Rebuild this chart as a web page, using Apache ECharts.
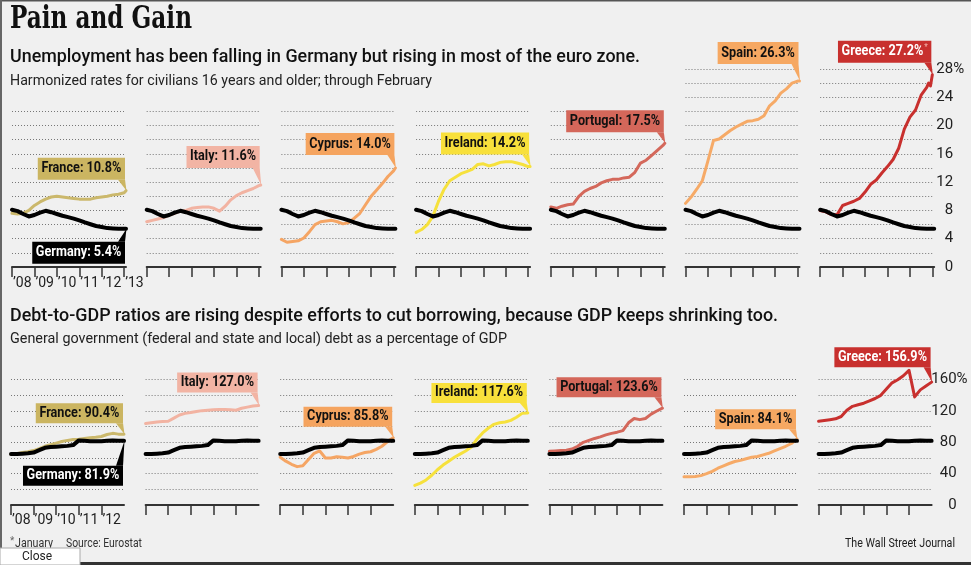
<!DOCTYPE html>
<html><head><meta charset="utf-8">
<script src="https://cdn.jsdelivr.net/npm/echarts@6/dist/echarts.min.js"></script>
<style>html,body{margin:0;padding:0;background:#f0f0f0;overflow:hidden}#c{width:971px;height:565px;}</style>
</head><body><div id="c"></div>
<script>
// ---------- DATA ----------
const countries = ['France', 'Italy', 'Cyprus', 'Ireland', 'Portugal', 'Spain', 'Greece'];
const yearLabels = ['\u201908', '\u201909', '\u201910', '\u201911', '\u201912', '\u201913'];

// Unemployment, month index from Jan 2008 (0) to Feb 2013 (61)
const topMonths = [0,3,6,9,12,15,18,21,24,27,30,33,36,39,42,45,48,51,54,57,60,61];
const greeceMonths = [0,3,6,9,12,15,18,21,24,27,30,33,36,39,42,45,48,51,54,57,58,59,60];
const germanyUnemp = [8.1,7.9,7.5,7.15,7.35,7.7,7.95,7.75,7.5,7.25,7.05,6.85,6.6,6.3,6.05,5.8,5.65,5.5,5.45,5.4,5.4,5.4];
const franceUnemp = [7.6,7.5,7.6,8.0,8.7,9.2,9.6,9.9,10.0,9.9,9.8,9.7,9.6,9.6,9.6,9.8,9.9,10.0,10.2,10.3,10.5,10.8];
const italyUnemp = [6.4,6.6,6.8,7.0,7.3,7.6,7.9,8.0,8.3,8.4,8.5,8.5,8.3,7.9,8.6,9.5,10.1,10.5,10.8,11.1,11.5,11.6];
const cyprusUnemp = [3.9,3.5,3.6,3.7,4.1,5.0,6.0,6.4,6.5,6.6,6.4,6.1,6.3,6.9,7.6,8.8,10.0,10.9,11.8,12.8,13.6,14.0];
const irelandUnemp = [4.9,5.3,6.0,7.2,9.3,11.0,12.2,12.7,13.2,13.5,13.8,14.5,14.6,14.3,14.5,14.8,14.9,14.9,14.7,14.5,14.2,14.2];
const portugalUnemp = [8.5,8.3,8.6,8.8,8.9,10.0,10.7,11.1,11.4,11.9,12.2,12.4,12.4,12.6,12.7,13.4,14.7,15.1,15.8,16.5,17.2,17.5];
const spainUnemp = [9.0,9.9,11.0,12.2,15.0,17.9,18.1,18.7,19.3,19.8,20.2,20.6,20.7,20.9,21.4,22.8,23.5,24.6,25.2,26.0,26.3,26.3];
const greeceUnemp = [8.0,7.8,7.4,7.4,8.7,9.0,9.3,9.7,10.6,11.7,12.3,13.3,14.2,15.2,16.8,19.5,21.2,22.2,24.3,25.4,26.0,25.6,27.2];

// Debt-to-GDP, quarter index (0 = end 2007 ... 20 = end 2012)
const quarters = [0,1,2,3,4,5,6,7,8,9,10,11,12,13,14,15,16,17,18,19,20];
const germanyDebt = [65,65,65.5,66,67,70,73,74,74.5,75,75.5,76.5,82.5,82,81.5,81.5,81.5,82,82.5,82,81.9];
const franceDebt = [64.5,65.5,67,68,69.5,72,75,77,79,81,82.5,83.5,84,85,86,86.5,87.5,90,91.5,90.5,90.4];
const italyDebt = [104,105,106,106.5,107,111,115,117,118,119.5,120.5,121,121.5,122,122,121.5,121,123.5,125,126.5,127.0];
const cyprusDebt = [61,56,52,49,50,58,66,69,60,60,61.5,61,60,62,65,67,68,71,75,81,85.8];
const irelandDebt = [25,28,32,38,45,51,56,61,65,69,74,84,92,98,103,105,106,108,112,117,117.6];
const portugalDebt = [68.5,69,69.5,70,71.5,75,80,82.5,85,87,89.5,91.5,93,95,105,110.5,109,110.5,116,120,123.6];
const spainDebt = [36,36,36.5,37.5,40,43,47,50,53,55.5,57,59,61,62,64,66,69,72,75,78.5,84.1];
const greeceDebt = [107,108,109,110,113,121,126,128,130,133,136,140,148,156,160,165,172,138,147,152,156.9];

const topTicks = [0,12,24,36,48,60];
const bottomTicks = [0,4,8,12,16];

// ---------- STYLE ----------
const lineColors = ['#cbb86c','#f2b3a2','#f5a564','#f6e13c','#d4685b','#f6aa67','#c8302e'];
const boxColors  = ['#cbb561','#f2b4a4','#f5a45f','#f8e03b','#d4675a','#f6a862','#c8302e'];
const boxText    = ['#111','#111','#111','#111','#111','#111','#fff'];
const topDy = [-11,-17,-13,-12,-11,-17,-12];
const botDy = [-11,-13,-11,-10,-11,-10,-15];

const unempSets = [franceUnemp, italyUnemp, cyprusUnemp, irelandUnemp, portugalUnemp, spainUnemp, greeceUnemp];
const unempX = [topMonths, topMonths, topMonths, topMonths, topMonths, topMonths, greeceMonths];
const debtSets = [franceDebt, italyDebt, cyprusDebt, irelandDebt, portugalDebt, spainDebt, greeceDebt];

const AX = '"Liberation Sans Narrow", "Roboto", sans-serif';
const XF = 'Roboto, sans-serif';
const PX_TOP = 7.07, BASE_TOP = 267;
const PX_BOT = 125.3 / 160, BASE_BOT = 505;
const TOP_LABEL_MARGIN = 19, BOT_LABEL_MARGIN = 25;

const grids = [], xAxes = [], yAxes = [], series = [];
const dotted = { lineStyle: { type: [1, 2], color: '#777', width: 1 } };

function pairs(xs, ys) { return xs.map((x, j) => [x, ys[j]]); }

for (let i = 0; i < 7; i++) {
  const ymax = i >= 5 ? 28 : 22;
  const k = grids.length;
  grids.push({ left: 12 + i * 134.7, top: BASE_TOP - ymax * PX_TOP, width: 114, height: ymax * PX_TOP, outerBoundsMode: 'none' });
  xAxes.push({
    gridIndex: k, type: 'value', min: 0, max: 61,
    axisLine: { lineStyle: { color: '#333', width: 2 } },
    axisTick: { customValues: topTicks, length: 10, lineStyle: { color: '#333', width: 1.5 } },
    axisLabel: { show: i === 0, customValues: topTicks, formatter: v => yearLabels[v / 12], align: 'left', padding: [0,0,0,1], margin: 9, fontSize: 14, color: '#222', fontFamily: XF },
    splitLine: { show: false }
  });
  yAxes.push({
    gridIndex: k, type: 'value', min: 0, max: ymax, interval: 2, position: 'right',
    axisLine: { show: false }, axisTick: { show: false },
    axisLabel: { show: i === 6, align: 'right', margin: TOP_LABEL_MARGIN, fontSize: 15, color: '#222', fontFamily: AX,
      formatter: v => (v % 4 ? '' : '' + v) },
    splitLine: dotted
  });
  series.push({ type: 'line', xAxisIndex: k, yAxisIndex: k, data: pairs(unempX[i], unempSets[i]), showSymbol: false, symbol: 'none', clip: false, z: 3, lineStyle: { color: lineColors[i], width: 3, join: 'round', cap: 'round' }, silent: true });
  series.push({ type: 'line', xAxisIndex: k, yAxisIndex: k, data: pairs(topMonths, germanyUnemp), showSymbol: false, symbol: 'none', clip: false, z: 4, lineStyle: { color: '#000', width: 4, join: 'round', cap: 'round' }, silent: true });
}
for (let i = 0; i < 7; i++) {
  const k = grids.length;
  grids.push({ left: 11 + i * 134.6, top: BASE_BOT - 160 * PX_BOT, width: 113, height: 160 * PX_BOT, outerBoundsMode: 'none' });
  xAxes.push({
    gridIndex: k, type: 'value', min: 0, max: 20,
    axisLine: { lineStyle: { color: '#333', width: 2 } },
    axisTick: { customValues: bottomTicks, length: 10, lineStyle: { color: '#333', width: 1.5 } },
    axisLabel: { show: i === 0, customValues: bottomTicks, formatter: v => yearLabels[v / 4], align: 'left', padding: [0,0,0,1], margin: 8, fontSize: 14, color: '#222', fontFamily: XF },
    splitLine: { show: false }
  });
  yAxes.push({
    gridIndex: k, type: 'value', min: 0, max: 160, interval: 20, position: 'right',
    axisLine: { show: false }, axisTick: { show: false },
    axisLabel: { show: i === 6, align: 'right', margin: BOT_LABEL_MARGIN, fontSize: 15, color: '#222', fontFamily: AX,
      formatter: v => (v % 40 ? '' : '' + v) },
    splitLine: dotted
  });
  series.push({ type: 'line', xAxisIndex: k, yAxisIndex: k, data: pairs(quarters, debtSets[i]), showSymbol: false, symbol: 'none', clip: false, z: 3, lineStyle: { color: lineColors[i], width: 3, join: 'round', cap: 'round' }, silent: true });
  series.push({ type: 'line', xAxisIndex: k, yAxisIndex: k, data: pairs(quarters, germanyDebt), showSymbol: false, symbol: 'none', clip: false, z: 4, lineStyle: { color: '#000', width: 4, join: 'round', cap: 'round' }, silent: true });
}

const chart = echarts.init(document.getElementById('c'), null, { renderer: 'canvas' });
chart.setOption({
  animation: false,
  backgroundColor: '#f0f0f0',
  grid: grids, xAxis: xAxes, yAxis: yAxes, series: series
});

// ---------- ANNOTATIONS ----------
const mctx = document.createElement('canvas').getContext('2d');
function measure(text, font) { mctx.font = font; return mctx.measureText(text).width; }
const graphics = [];

function addText(text, x, y, font, w, color, align) {
  const s = w ? w / measure(text, font) : 1;
  graphics.push({ type: 'text', x: x, y: y, scaleX: s, z: 60, silent: true,
    style: { text: text, font: font, fill: color || '#111', align: align || 'left', textAlign: align || 'left', verticalAlign: 'middle', textVerticalAlign: 'middle' } });
}

const LABEL_FONT = 'bold 14px Roboto, sans-serif';
const labelScale = 80 / measure('France: 10.8%', LABEL_FONT);

function addLabel(gi, x, y, text, bg, fg, dy, pad, asterisk) {
  const p = chart.convertToPixel({ gridIndex: gi }, [x, y]);
  const bx = p[0] - 1, by = p[1] + dy;
  const va = dy < 0 ? 'bottom' : 'top';
  graphics.push({ type: 'polygon', z: 70, silent: true, shape: { points: [[bx - 7, by], [bx, by], [p[0] + 0.5, p[1]]] }, style: { fill: bg } });
  const style = { text: asterisk ? '{a|' + text + '}{b|*}' : text, font: LABEL_FONT, fill: fg, backgroundColor: bg, padding: pad,
    align: 'right', textAlign: 'right', verticalAlign: va, textVerticalAlign: va, lineHeight: 16 };
  if (asterisk) style.rich = { a: { font: LABEL_FONT, fill: fg, lineHeight: 16 }, b: { fontSize: 9, fontFamily: 'Roboto', fill: '#f3b3ab', verticalAlign: 'top', lineHeight: 16, padding: [0, 0, 6, 1] } };
  graphics.push({ type: 'text', x: bx, y: by, scaleX: labelScale, z: 71, silent: true, style: style });
}

for (let i = 0; i < 7; i++) {
  const xs = unempX[i], ys = unempSets[i];
  const n = ys.length - 1;
  addLabel(i, xs[n], ys[n], countries[i] + ': ' + ys[n].toFixed(1) + '%', boxColors[i], boxText[i], topDy[i], [3, 4, 3, 4], i === 6);
  const m = debtSets[i].length - 1;
  addLabel(7 + i, quarters[m], debtSets[i][m], countries[i] + ': ' + debtSets[i][m].toFixed(1) + '%', boxColors[i], boxText[i], botDy[i], [2, 4, 2, 4], false);
}
const gn = germanyUnemp.length - 1;
addLabel(0, topMonths[gn], germanyUnemp[gn], 'Germany: ' + germanyUnemp[gn].toFixed(1) + '%', '#000', '#fff', 13, [3, 4, 3, 4], false);
const dn = germanyDebt.length - 1;
addLabel(7, quarters[dn], germanyDebt[dn], 'Germany: ' + germanyDebt[dn].toFixed(1) + '%', '#000', '#fff', 25, [2, 4, 2, 4], false);

// percent signs hanging after the top value labels of the right axes
function addPercent(gi, x, y, margin) {
  const p = chart.convertToPixel({ gridIndex: gi }, [x, y]);
  const g = chart.getModel().getComponent('grid', gi).coordinateSystem.getRect();
  graphics.push({ type: 'text', z: 60, silent: true, x: g.x + g.width + margin, y: p[1],
    style: { text: '%', font: '15px ' + AX, fill: '#222', align: 'left', textAlign: 'left', verticalAlign: 'middle', textVerticalAlign: 'middle' } });
}
addPercent(6, 0, 28, TOP_LABEL_MARGIN);
addPercent(13, 0, 160, BOT_LABEL_MARGIN);

// titles
addText('Pain and Gain', 10, 20, 'bold 31px "DejaVu Serif", serif', 182, '#111');
addText('Unemployment has been falling in Germany but rising in most of the euro zone.', 10, 57, '500 19px Roboto, sans-serif', 630, '#111');
addText('Harmonized rates for civilians 16 years and older; through February', 10, 81, '15px Roboto, sans-serif', 422, '#222');
addText('Debt-to-GDP ratios are rising despite efforts to cut borrowing, because GDP keeps shrinking too.', 10, 316, '500 19px Roboto, sans-serif', 768, '#111');
addText('General government (federal and state and local) debt as a percentage of GDP', 10, 339, '15px Roboto, sans-serif', 497, '#222');
addText('January', 15, 544, '13px Roboto, sans-serif', 38, '#333');
addText('*', 10, 541, '10px Roboto, sans-serif', 0, '#666');
addText('Source: Eurostat', 66, 544, '13px Roboto, sans-serif', 76, '#333');
addText('The Wall Street Journal', 955, 544, '13px Roboto, sans-serif', 110, '#222', 'right');

// frame and Close button
graphics.push({ type: 'rect', z: 80, silent: true, shape: { x: 0, y: 0, width: 971, height: 1.5 }, style: { fill: '#555' } });
graphics.push({ type: 'rect', z: 80, silent: true, shape: { x: 0, y: 0, width: 2, height: 565 }, style: { fill: '#666' } });
graphics.push({ type: 'rect', z: 80, silent: true, shape: { x: 0, y: 562, width: 971, height: 3 }, style: { fill: '#333' } });
graphics.push({ type: 'rect', z: 81, silent: true, shape: { x: 0, y: 548, width: 80, height: 17 }, style: { fill: '#fff', stroke: '#aaa', lineWidth: 1 } });
graphics.push({ type: 'text', z: 82, silent: true, x: 37, y: 557, style: { text: 'Close', font: '12px Roboto, sans-serif', fill: '#222', align: 'center', textAlign: 'center', verticalAlign: 'middle', textVerticalAlign: 'middle' } });

chart.setOption({ graphic: { elements: graphics } });
</script>
</body></html>
